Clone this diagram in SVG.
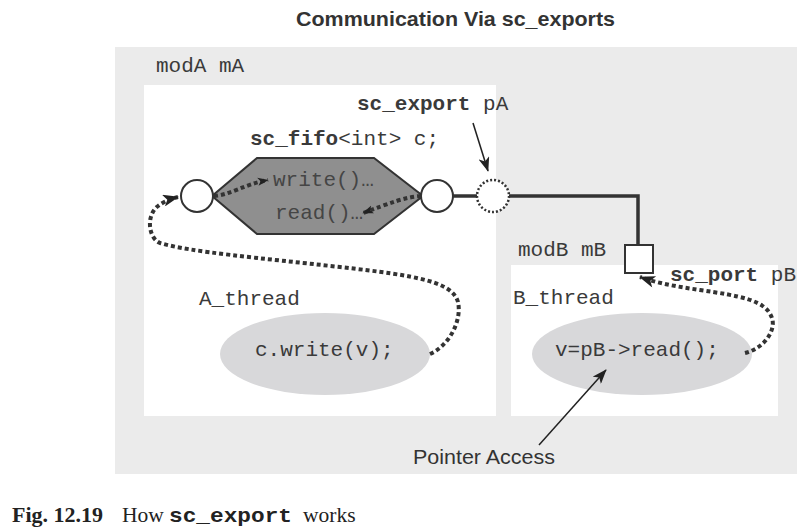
<svg xmlns="http://www.w3.org/2000/svg" width="807" height="530" viewBox="0 0 807 530">
<style>
.mono{font-family:"Liberation Mono","DejaVu Sans Mono",monospace;font-size:21px;fill:#3a3a3a}
.b{font-weight:bold}
.sans{font-family:"Liberation Sans",Arial,sans-serif;fill:#333}
.serif{font-family:"Liberation Serif","Times New Roman",serif;font-size:21.5px;fill:#222}
.dot{fill:none;stroke:#333;stroke-width:4;stroke-dasharray:4 3}
.solid{fill:none;stroke:#333;stroke-width:3.5}
.thin{fill:none;stroke:#222;stroke-width:1.5}
.port{fill:#fff;stroke:#333;stroke-width:2}
</style>
<defs>
<marker id="big" viewBox="0 0 16 12" refX="15" refY="6" markerWidth="17" markerHeight="12" markerUnits="userSpaceOnUse" orient="auto">
<path d="M0,0 L16,6 L0,12 L4,6 z" fill="#222"/>
</marker>
<marker id="small" viewBox="0 0 16 12" refX="15" refY="6" markerWidth="11" markerHeight="9" markerUnits="userSpaceOnUse" orient="auto">
<path d="M0,0 L16,6 L0,12 L4,6 z" fill="#222"/>
</marker>
<marker id="thinhead" viewBox="0 0 16 12" refX="15" refY="6" markerWidth="15" markerHeight="11" markerUnits="userSpaceOnUse" orient="auto">
<path d="M0,0 L16,6 L0,12 L4,6 z" fill="#222"/>
</marker>
</defs>
<rect width="807" height="530" fill="#fff"/>
<text class="sans b" x="296" y="26" font-size="21" textLength="319" lengthAdjust="spacingAndGlyphs">Communication Via sc_exports</text>

<g id="modA">
<rect x="115" y="47" width="682" height="427" fill="#ebebeb"/>
<text class="mono" x="156" y="72">modA mA</text>
<rect x="144" y="85" width="352" height="331" fill="#fff"/>
</g>

<g id="modB">
<rect x="511" y="265" width="267" height="151" fill="#fff"/>
<text class="mono" x="518" y="256">modB mB</text>
</g>

<g id="fifo">
<polygon points="212,196 257,158 374,158 423,196 374,234 257,234" fill="#8f8f8f" stroke="#333" stroke-width="2"/>
<text class="mono" x="250" y="145"><tspan class="b">sc_fifo</tspan>&lt;int&gt; c;</text>
<text class="mono" x="273" y="186" style="fill:#454545">write()…</text>
<text class="mono" x="275" y="219" style="fill:#454545">read()…</text>
</g>

<g id="fifo-in-port"><circle cx="197" cy="196" r="16" class="port"/></g>
<g id="fifo-out-port"><circle cx="437" cy="196" r="16" class="port"/></g>

<g id="export-pA">
<circle cx="493" cy="196" r="16" fill="#fff" stroke="#333" stroke-width="2.5" stroke-dasharray="2 2"/>
<text class="mono" x="357" y="110"><tspan class="b">sc_export</tspan> pA</text>
</g>

<g id="port-pB">
<rect x="625" y="245" width="28" height="28" class="port"/>
<text class="mono" x="670" y="281"><tspan class="b">sc_port</tspan> pB</text>
</g>

<g id="A_thread">
<text class="mono" x="199" y="305">A_thread</text>
<ellipse cx="325" cy="354" rx="105" ry="41" fill="#d8d8da"/>
<text class="mono" x="255" y="356">c.write(v);</text>
</g>

<g id="B_thread">
<text class="mono" x="513" y="304">B_thread</text>
<ellipse cx="642" cy="354" rx="110" ry="41" fill="#d8d8da"/>
<text class="mono" x="555" y="356">v=pB-&gt;read();</text>
</g>

<g id="pointer-access">
<text class="sans" x="413" y="464" font-size="21" textLength="142" lengthAdjust="spacingAndGlyphs">Pointer Access</text>
</g>

<g id="connectors">
<path class="solid" d="M453,196 H477"/>
<path class="solid" d="M509,196 H638 V245"/>
<path class="dot" d="M214,196 C230,195 245,184 268,180" marker-end="url(#small)"/>
<path class="dot" d="M421,196 C405,197 390,203 363,213" marker-end="url(#small)"/>
<path class="dot" d="M430,354 C450,345 462,320 458,302 C452,282 420,276 340,267 C260,258 190,252 160,243 C148,238 146,215 158,206 C163,202 170,199 178,197" marker-end="url(#big)"/>
<path class="dot" d="M745,353 C765,348 776,330 772,318 C766,300 740,296 700,290 C680,287 660,284 640,277" marker-end="url(#big)"/>
<path class="thin" d="M473,123 L488,171" marker-end="url(#thinhead)"/>
<path class="thin" d="M539,445 L606,370" marker-end="url(#thinhead)"/>
</g>

<text class="serif" y="522"><tspan class="b" x="12" font-size="22">Fig. 12.19</tspan><tspan x="122">How</tspan></text>
<text class="mono b" x="169" y="522" font-size="22" textLength="123" lengthAdjust="spacingAndGlyphs" style="fill:#222">sc_export</text>
<text class="serif" x="303" y="522">works</text>
</svg>
